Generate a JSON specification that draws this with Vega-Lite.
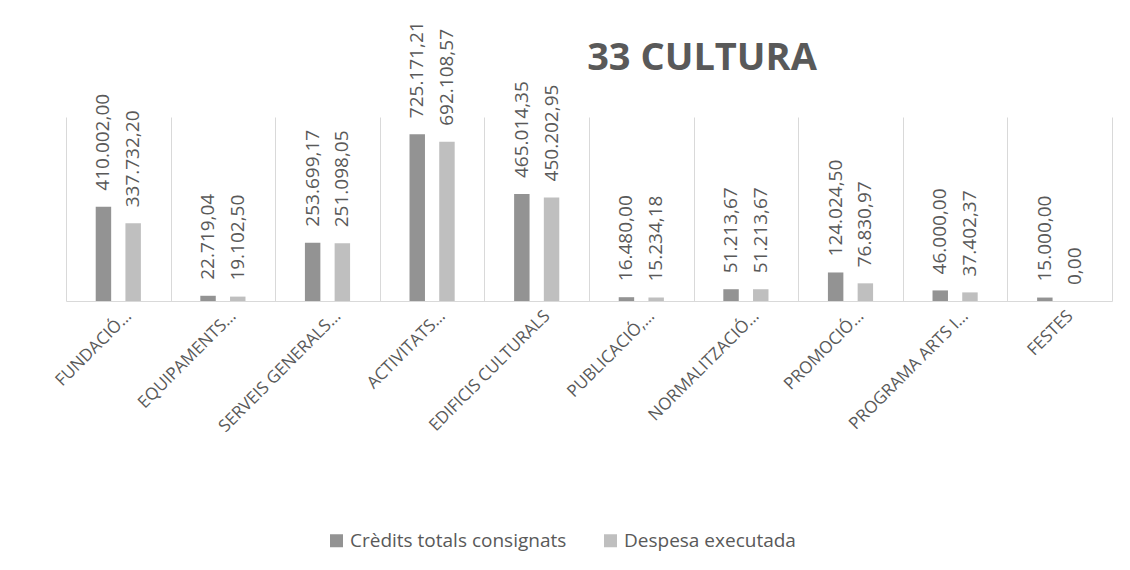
{
  "$schema": "https://vega.github.io/schema/vega-lite/v6.json",
  "autosize": "none",
  "width": 1046,
  "height": 184,
  "padding": {"left": 66, "top": 117, "right": 18, "bottom": 269},
  "background": "white",
  "config": {
    "view": {"stroke": null},
    "font": "Open Sans",
    "locale": {"number": {"decimal": ",", "thousands": ".", "grouping": [3], "currency": ["", " €"]}}
  },
  "title": {
    "text": "33 CULTURA",
    "fontSize": 38,
    "fontWeight": "bold",
    "color": "#595959",
    "font": "Open Sans",
    "anchor": "middle",
    "frame": "group",
    "dx": 113,
    "baseline": "alphabetic",
    "offset": -87
  },
  "data": {
    "values": [
      {"programa": "FUNDACIÓ…", "serie": "Crèdits totals consignats", "valor": 410002.00},
      {"programa": "FUNDACIÓ…", "serie": "Despesa executada", "valor": 337732.20},
      {"programa": "EQUIPAMENTS…", "serie": "Crèdits totals consignats", "valor": 22719.04},
      {"programa": "EQUIPAMENTS…", "serie": "Despesa executada", "valor": 19102.50},
      {"programa": "SERVEIS GENERALS…", "serie": "Crèdits totals consignats", "valor": 253699.17},
      {"programa": "SERVEIS GENERALS…", "serie": "Despesa executada", "valor": 251098.05},
      {"programa": "ACTIVITATS…", "serie": "Crèdits totals consignats", "valor": 725171.21},
      {"programa": "ACTIVITATS…", "serie": "Despesa executada", "valor": 692108.57},
      {"programa": "EDIFICIS CULTURALS", "serie": "Crèdits totals consignats", "valor": 465014.35},
      {"programa": "EDIFICIS CULTURALS", "serie": "Despesa executada", "valor": 450202.95},
      {"programa": "PUBLICACIÓ,…", "serie": "Crèdits totals consignats", "valor": 16480.00},
      {"programa": "PUBLICACIÓ,…", "serie": "Despesa executada", "valor": 15234.18},
      {"programa": "NORMALITZACIÓ…", "serie": "Crèdits totals consignats", "valor": 51213.67},
      {"programa": "NORMALITZACIÓ…", "serie": "Despesa executada", "valor": 51213.67},
      {"programa": "PROMOCIÓ…", "serie": "Crèdits totals consignats", "valor": 124024.50},
      {"programa": "PROMOCIÓ…", "serie": "Despesa executada", "valor": 76830.97},
      {"programa": "PROGRAMA ARTS I…", "serie": "Crèdits totals consignats", "valor": 46000.00},
      {"programa": "PROGRAMA ARTS I…", "serie": "Despesa executada", "valor": 37402.37},
      {"programa": "FESTES", "serie": "Crèdits totals consignats", "valor": 15000.00},
      {"programa": "FESTES", "serie": "Despesa executada", "valor": 0.00}
    ]
  },
  "encoding": {
    "x": {
      "field": "programa",
      "type": "nominal",
      "sort": null,
      "scale": {"paddingInner": 0, "paddingOuter": 0},
      "axis": {
        "title": null,
        "labelAngle": -45,
        "labelAlign": "right",
        "labelBaseline": "middle",
        "labelFontSize": 17,
        "labelFont": "Open Sans",
        "labelColor": "#595959",
        "labelPadding": 12,
        "labelOffset": 10,
        "labelLimit": 400,
        "labelOverlap": false,
        "ticks": false,
        "domain": true,
        "domainColor": "#d9d9d9",
        "domainWidth": 1,
        "grid": true,
        "gridColor": "#d9d9d9",
        "gridWidth": 1,
        "tickBand": "extent"
      }
    },
    "xOffset": {
      "field": "serie",
      "type": "nominal",
      "sort": ["Crèdits totals consignats", "Despesa executada"],
      "scale": {"paddingInner": 0.48, "paddingOuter": 1.18}
    },
    "y": {
      "field": "valor",
      "type": "quantitative",
      "scale": {"domain": [0, 800000], "nice": false},
      "axis": null
    }
  },
  "layer": [
    {
      "mark": {"type": "bar"},
      "encoding": {
        "color": {
          "field": "serie",
          "type": "nominal",
          "sort": ["Crèdits totals consignats", "Despesa executada"],
          "scale": {"domain": ["Crèdits totals consignats", "Despesa executada"], "range": ["#939393", "#bfbfbf"]},
          "legend": {
            "orient": "none",
            "legendX": 261,
            "legendY": 414,
            "direction": "horizontal",
            "title": null,
            "symbolType": "square",
            "symbolSize": 169,
            "symbolStrokeWidth": 0,
            "labelFontSize": 19,
            "labelFont": "Open Sans",
            "labelColor": "#595959",
            "labelOffset": 4,
            "labelLimit": 400,
            "columnPadding": 34
          }
        }
      }
    },
    {
      "mark": {
        "type": "text",
        "angle": 270,
        "align": "left",
        "baseline": "middle",
        "dx": 16,
        "fontSize": 19,
        "font": "Open Sans",
        "color": "#595959"
      },
      "encoding": {
        "text": {"field": "valor", "type": "quantitative", "format": ",.2f"}
      }
    }
  ]
}
